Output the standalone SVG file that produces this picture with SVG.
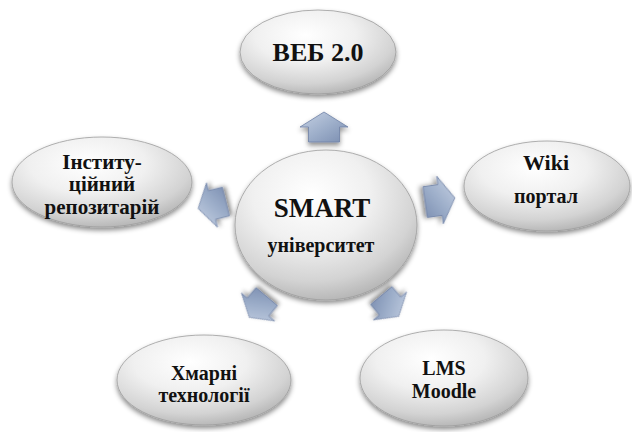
<svg xmlns="http://www.w3.org/2000/svg" width="632" height="432" viewBox="0 0 632 432">
<defs>
<radialGradient id="eg" cx="42%" cy="30%" r="72%">
<stop offset="0" stop-color="#ffffff"/>
<stop offset="0.45" stop-color="#f0f0f0"/>
<stop offset="0.8" stop-color="#d3d3d3"/>
<stop offset="1" stop-color="#b5b5b5"/>
</radialGradient>
<linearGradient id="ag" x1="0" y1="0" x2="1" y2="1">
<stop offset="0" stop-color="#c6d1e3"/>
<stop offset="0.5" stop-color="#9fb0cb"/>
<stop offset="1" stop-color="#7a8db0"/>
</linearGradient>
<filter id="sh" x="-20%" y="-20%" width="140%" height="150%">
<feDropShadow dx="0" dy="3" stdDeviation="2.5" flood-color="#000" flood-opacity="0.45"/>
</filter>
<path id="arr" d="M0,-15 L24,0 L15.5,0 L15.5,15 L-15.5,15 L-15.5,0 L-24,0 Z"/>
</defs>
<style>
.node ellipse{fill:url(#eg);stroke:#9c9c9c;stroke-width:0.8;filter:url(#sh)}
.t{font-family:"Liberation Serif","Times New Roman",serif;font-weight:bold;fill:#111;text-anchor:middle}
.a{fill:url(#ag);stroke:#6f82a6;stroke-width:0.8;filter:url(#sh)}
</style>
<g id="connectors">
<use href="#arr" class="a" transform="translate(324,127)"/>
<use href="#arr" class="a" transform="translate(440,200) rotate(82)"/>
<use href="#arr" class="a" transform="translate(212,205) rotate(-104) scale(0.95)"/>
<use href="#arr" class="a" transform="translate(258,307) rotate(-140) scale(0.9)"/>
<use href="#arr" class="a" transform="translate(390,306) rotate(140) scale(0.9)"/>
</g>
<g id="web" class="node">
<ellipse cx="318" cy="52" rx="78" ry="42"/>
<text class="t" x="318" y="61" font-size="26">ВЕБ 2.0</text>
</g>
<g id="smart" class="node">
<ellipse cx="326" cy="225" rx="91" ry="75"/>
<text class="t" x="322" y="217" font-size="27">SMART</text>
<text class="t" x="321" y="252" font-size="20">університет</text>
</g>
<g id="repo" class="node">
<ellipse cx="102" cy="182" rx="90" ry="45"/>
<text class="t" x="102" y="169" font-size="21">Інститу-</text>
<text class="t" x="102" y="191" font-size="21">ційний</text>
<text class="t" x="102" y="214" font-size="21">репозитарій</text>
</g>
<g id="wiki" class="node">
<ellipse cx="547" cy="186" rx="83" ry="45"/>
<text class="t" x="546" y="170" font-size="22">Wiki</text>
<text class="t" x="546" y="203" font-size="20">портал</text>
</g>
<g id="cloud" class="node">
<ellipse cx="204" cy="380" rx="87" ry="45"/>
<text class="t" x="204" y="380" font-size="20">Хмарні</text>
<text class="t" x="204" y="402" font-size="20">технології</text>
</g>
<g id="lms" class="node">
<ellipse cx="444" cy="378" rx="84" ry="48"/>
<text class="t" x="444" y="375" font-size="20">LMS</text>
<text class="t" x="444" y="398" font-size="20">Moodle</text>
</g>
</svg>
